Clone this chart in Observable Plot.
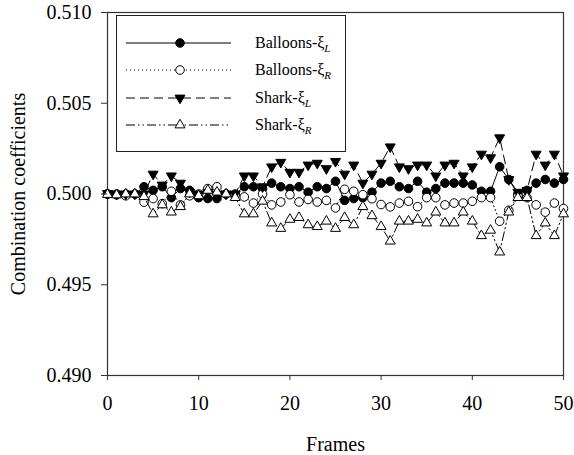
<!DOCTYPE html>
<html><head><meta charset="utf-8">
<script src="https://cdn.jsdelivr.net/npm/d3@7"></script>
<script src="https://cdn.jsdelivr.net/npm/@observablehq/plot@0.6"></script>
<style>
body{margin:0;background:#fff}
svg text, svg tspan { font-family: "Liberation Serif", "Times New Roman", Tinos, "DejaVu Serif", serif !important; }
</style>
</head><body><div id="chart"></div>
<script>
const frames = [0,1,2,3,4,5,6,7,8,9,10,11,12,13,14,15,16,17,18,19,20,21,22,23,24,25,26,27,28,29,30,31,32,33,34,35,36,37,38,39,40,41,42,43,44,45,46,47,48,49,50];
const balloonsL = [0.5000,0.5000,0.5000,0.5000,0.5004,0.5002,0.5004,0.4998,0.5003,0.5002,0.4998,0.49975,0.49975,0.5000,0.5000,0.5004,0.5004,0.5003,0.5006,0.5004,0.5003,0.5004,0.5001,0.5004,0.5003,0.5007,0.49965,0.49975,0.4998,0.5001,0.5006,0.5007,0.5004,0.5003,0.5007,0.5001,0.5003,0.5006,0.5006,0.5006,0.5005,0.50015,0.50015,0.5015,0.5008,0.5000,0.5002,0.5006,0.5008,0.5006,0.5008];
const balloonsR = [0.5000,0.49995,0.4999,0.5000,0.49955,0.49975,0.49947,0.50015,0.4994,0.4999,0.5000,0.5003,0.5004,0.5000,0.49995,0.49984,0.4995,0.5000,0.4994,0.49956,0.49996,0.49956,0.4997,0.49956,0.49965,0.49923,0.50026,0.50015,0.49996,0.49974,0.49942,0.49929,0.4995,0.4996,0.4993,0.4998,0.4998,0.4994,0.4995,0.4995,0.4996,0.4998,0.4998,0.4985,0.4991,0.4999,0.4998,0.4994,0.4990,0.4995,0.4992];
const sharkL = [0.50003,0.5000,0.5000,0.5000,0.5000,0.5011,0.5005,0.5010,0.5006,0.5001,0.5000,0.5001,0.5000,0.5000,0.5000,0.5010,0.5010,0.5004,0.5015,0.50175,0.5012,0.5012,0.5016,0.5017,0.5014,0.5018,0.5011,0.5016,0.5006,0.5011,0.5017,0.5026,0.5015,0.5014,0.5016,0.5016,0.5010,0.5016,0.5017,0.5010,0.5015,0.5022,0.5020,0.5031,0.5008,0.5001,0.5002,0.5022,0.5016,0.5022,0.5010];
const sharkR = [0.49997,0.49995,0.5000,0.5000,0.49985,0.4989,0.4994,0.4990,0.4993,0.5000,0.4999,0.5002,0.5001,0.5000,0.4998,0.4989,0.4989,0.4996,0.4984,0.4981,0.4986,0.4987,0.4983,0.4982,0.4985,0.4981,0.4987,0.4983,0.4993,0.4988,0.4982,0.4974,0.4985,0.4985,0.4986,0.4984,0.4990,0.4984,0.4984,0.4990,0.4985,0.4977,0.4980,0.4968,0.4990,0.4998,0.4998,0.4977,0.4984,0.4977,0.4989];
const legendBase = ["Balloons-ξ","Balloons-ξ","Shark-ξ","Shark-ξ"];
const legendSub = ["L","R","L","R"];
const xTicks = [0,10,20,30,40,50];
const yTicks = [0.490,0.495,0.500,0.505,0.510];
const xLabel = "Frames";
const yLabel = "Combination coefficients";

const seriesValues = [balloonsL, balloonsR, sharkL, sharkR];
const styles = [
  {dash: null, symbol: "circle", fill: "black", rotate: 0, r: 4.3},
  {dash: "1,3", symbol: "circle", fill: "white", rotate: 0, r: 4.3},
  {dash: "9,5", symbol: "triangle", fill: "black", rotate: 180, r: 3.7},
  {dash: "9,3,1.5,3,1.5,3", symbol: "triangle", fill: "white", rotate: 0, r: 3.7}
];

const rows = seriesValues.map((vals, i) => frames.map((f, j) => ({s: i, frame: f, value: vals[j]})));

const marks = [Plot.frame({stroke: "#333", strokeWidth: 1.2})];
rows.forEach((data, i) => {
  const st = styles[i];
  marks.push(Plot.line(data, {x: "frame", y: "value", stroke: "black", strokeWidth: 1, strokeDasharray: st.dash}));
  marks.push(Plot.dot(data, {x: "frame", y: "value", symbol: st.symbol, r: st.r, rotate: st.rotate, fill: st.fill, stroke: "black", strokeWidth: 1}));
});
marks.push(Plot.axisX({ticks: xTicks, tickSize: 5, tickPadding: 15, label: null, stroke: "#333"}));
marks.push(Plot.axisY({ticks: yTicks, tickFormat: d3.format(".3f"), tickSize: 6, tickPadding: 10, label: null, stroke: "#333"}));
marks.push(Plot.text([xLabel], {text: d => d, frameAnchor: "bottom", lineAnchor: "top", textAnchor: "middle", dy: 61, fontSize: 20}));
marks.push(Plot.text([yLabel], {text: d => d, frameAnchor: "left", textAnchor: "middle", dx: -89, rotate: -90, lineAnchor: "middle", fontSize: 20}));

const chart = Plot.plot({
  width: 574, height: 455,
  marginLeft: 107, marginRight: 11, marginTop: 12, marginBottom: 80,
  style: {fontFamily: "'Liberation Serif', 'Times New Roman', serif", fontSize: "20px", background: "white", color: "black"},
  x: {domain: [0, 50]},
  y: {domain: [0.49, 0.51]},
  marks
});

// legend
const svg = d3.select(chart);
const lg = svg.append("g").attr("text-anchor", "start");
lg.append("rect").attr("x", 116.5).attr("y", 15.5).attr("width", 229).attr("height", 136)
  .attr("fill", "white").attr("stroke", "#222").attr("stroke-width", 1);
const rowY = [43, 70, 98, 125];
styles.forEach((st, i) => {
  const y = rowY[i];
  lg.append("line").attr("x1", 126).attr("x2", 231).attr("y1", y).attr("y2", y)
    .attr("stroke", "black").attr("stroke-width", 1).attr("stroke-dasharray", st.dash);
  const sym = st.symbol === "circle" ? d3.symbolCircle : d3.symbolTriangle;
  lg.append("path").attr("d", d3.symbol(sym, Math.PI * st.r * st.r)())
    .attr("transform", `translate(180,${y}) rotate(${st.rotate})`)
    .attr("fill", st.fill).attr("stroke", "black").attr("stroke-width", 1);
  const t = lg.append("text").attr("x", 255).attr("y", y + 5).attr("text-anchor", "start")
    .attr("font-size", 16).attr("fill", "black");
  t.append("tspan").text(legendBase[i]);
  t.append("tspan").attr("dy", 4).attr("font-size", 11).attr("font-style", "italic").text(legendSub[i]);
});

document.getElementById("chart").appendChild(chart);
</script>
</body></html>
